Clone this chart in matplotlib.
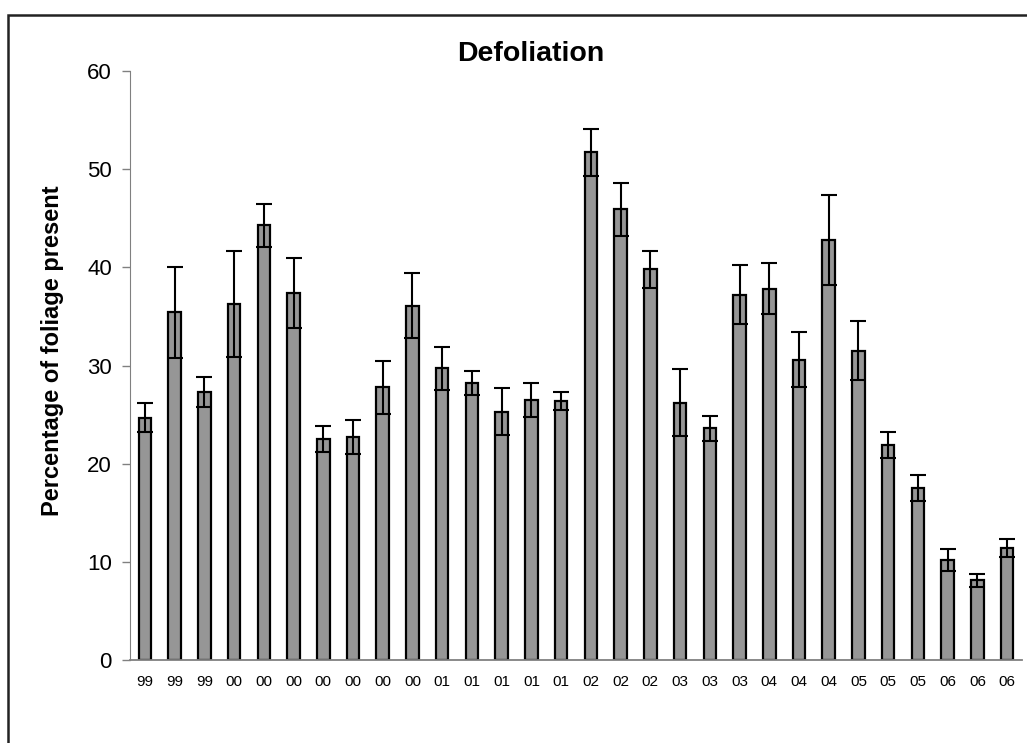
import numpy as np
import matplotlib
matplotlib.use("Agg")
import matplotlib.pyplot as plt
from matplotlib.patches import Rectangle

plt.rcParams["font.family"] = ["Liberation Sans", "DejaVu Sans"]

# data
labels = ["99", "99", "99",
          "00", "00", "00", "00", "00", "00", "00",
          "01", "01", "01", "01", "01",
          "02", "02", "02",
          "03", "03", "03",
          "04", "04", "04",
          "05", "05", "05",
          "06", "06", "06"]
foliage = [24.7, 35.4, 27.3,
           36.3, 44.3, 37.4, 22.5, 22.7, 27.8, 36.1,
           29.7, 28.2, 25.3, 26.5, 26.4,
           51.7, 45.9, 39.8,
           26.2, 23.6, 37.2,
           37.8, 30.6, 42.8,
           31.5, 21.9, 17.5,
           10.2, 8.1, 11.4]
err = [1.5, 4.6, 1.5,
       5.4, 2.2, 3.6, 1.3, 1.7, 2.7, 3.3,
       2.2, 1.2, 2.4, 1.7, 0.9,
       2.4, 2.7, 1.9,
       3.4, 1.3, 3.0,
       2.6, 2.8, 4.6,
       3.0, 1.3, 1.3,
       1.1, 0.7, 0.9]

fig = plt.figure(figsize=(10.27, 7.43), dpi=100)
ax = fig.add_axes([130 / 1027, 83 / 743, 892 / 1027, 589 / 743])

x = np.arange(len(foliage))
ax.bar(x, foliage, width=0.42, color="#969696", edgecolor="black", linewidth=1.6, zorder=2)
ax.errorbar(x, foliage, yerr=err, fmt="none", ecolor="black", elinewidth=1.5,
            capsize=5.5, capthick=1.5, zorder=3)

ax.set_xlim(-0.5, len(foliage) - 0.5)
ax.set_ylim(0, 60)
ax.set_yticks(range(0, 61, 10))
ax.set_xticks(x, labels)
ax.tick_params(axis="x", length=0, labelsize=11, pad=11)
ax.tick_params(axis="y", length=6, width=1, color="#808080", labelsize=16, pad=7)

for s in ["top", "right"]:
    ax.spines[s].set_visible(False)
ax.spines["left"].set_color("#808080")
ax.spines["bottom"].set_color("#808080")
ax.spines["bottom"].set_linewidth(1.3)

ax.set_ylabel("Percentage of foliage present", fontsize=17, fontweight="bold")
ax.yaxis.set_label_coords(-(130 - 64) / 892, 0.5 + (365 - 350) / 589)
fig.text(531 / 1027, 1 - 54 / 743, "Defoliation", fontsize=20.5, fontweight="bold",
         ha="center", va="center")

# outer chart border (right and bottom sides fall outside the picture)
fig.patches.append(Rectangle((8 / 1027, -0.2), 1.2, 1.2 - 15 / 743,
                             transform=fig.transFigure, fill=False,
                             edgecolor="#222222", linewidth=1.8))

plt.savefig("out.png")
